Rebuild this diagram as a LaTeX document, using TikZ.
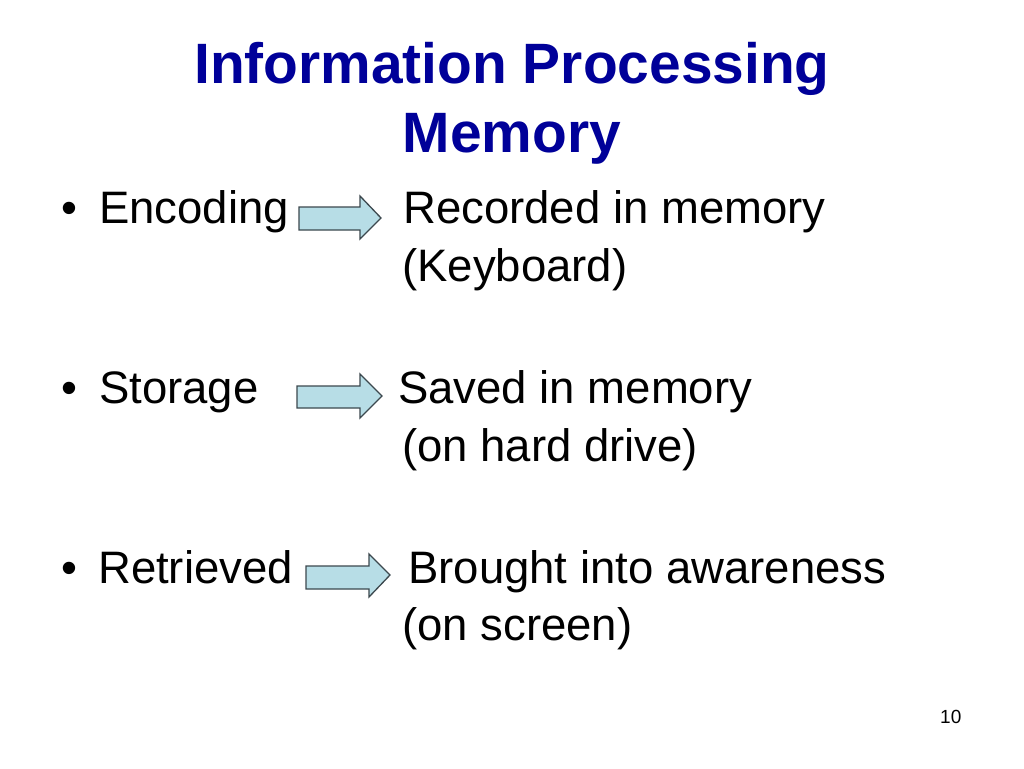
\documentclass[tikz,border=0pt]{standalone}
\usepackage{fontspec}
\setmainfont{Liberation Sans}
\definecolor{titleblue}{RGB}{0,0,153}
\definecolor{arrowfill}{RGB}{183,221,230}
\definecolor{arrowline}{RGB}{60,72,78}
\begin{document}
\begin{tikzpicture}[x=1pt,y=-1pt,
  titletext/.style={anchor=base,inner sep=0pt,text=titleblue,font=\fontsize{56.9}{68}\selectfont\bfseries},
  bodytext/.style={anchor=base west,inner sep=0pt,font=\fontsize{45.5}{54}\selectfont},
  blockarrow/.style={draw=arrowline,fill=arrowfill,line width=1.3pt,line join=miter}]
\useasboundingbox[fill=white] (0,0) rectangle (1024,768);
% title
\node[titletext] (t1) at (512,83) {Information Processing};
\node[titletext] (t2) at (512,152) {Memory};
% row 1
\node[bodytext] (b1) at (61,223) {•};
\node[bodytext] (l1) at (99,223) {Encoding};
\node[bodytext] (r1) at (403,223) {Recorded in memory};
\node[bodytext] (s1) at (402,281) {(Keyboard)};
\draw[blockarrow] (299,207) -- (360,207) -- (360,196) -- (381,218) -- (360,239) -- (360,230) -- (299,230) -- cycle;
% row 2
\node[bodytext] (b2) at (61,403) {•};
\node[bodytext] (l2) at (99,403) {Storage};
\node[bodytext] (r2) at (398,403) {Saved in memory};
\node[bodytext] (s2) at (402,461) {(on hard drive)};
\draw[blockarrow] (297,386) -- (360,386) -- (360,374) -- (382,396) -- (360,418) -- (360,408) -- (297,408) -- cycle;
% row 3
\node[bodytext] (b3) at (61,583) {•};
\node[bodytext] (l3) at (98,583) {Retrieved};
\node[bodytext] (r3) at (408,583) {Brought into awareness};
\node[bodytext] (s3) at (402,640) {(on screen)};
\draw[blockarrow] (306,566) -- (369,566) -- (369,554) -- (390,575) -- (369,597) -- (369,589) -- (306,589) -- cycle;
% page number
\node[anchor=base west,inner sep=0pt,font=\fontsize{19}{23}\selectfont] (pg) at (940,723) {10};
\end{tikzpicture}
\end{document}
